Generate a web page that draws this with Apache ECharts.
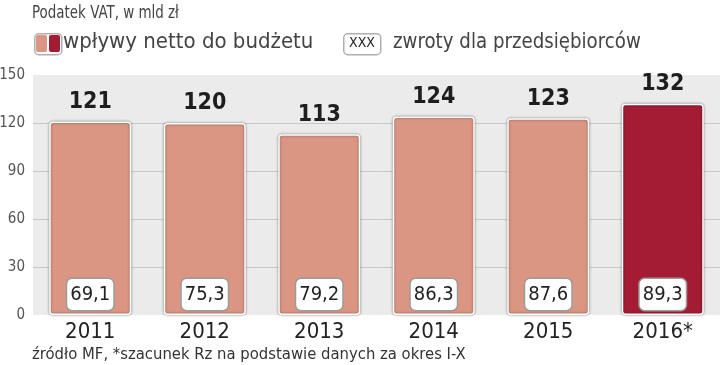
<!DOCTYPE html>
<html><head><meta charset="utf-8">
<script src="https://cdn.jsdelivr.net/npm/echarts@6/dist/echarts.min.js"></script>
<style>html,body{margin:0;padding:0;background:#fff}#c{width:720px;height:365px}</style>
</head><body><div id="c"></div>
<script>
var categories = ['2011','2012','2013','2014','2015','2016*'];
var netIncome = [121, 120, 113, 124, 123, 132];
var refunds = [69.1, 75.3, 79.2, 86.3, 87.6, 89.3];
var yTicks = [0, 30, 60, 90, 120, 150];

var LIGHT = '#DA9682', DARK = '#A31C33';
var COND = '"DejaVu Sans Condensed",sans-serif';

var chart = echarts.init(document.getElementById('c'));
chart.setOption({
  animation: false,
  grid: {left: 33, right: 0, top: 75, bottom: 50, outerBoundsMode: 'none', containLabel: false,
         show: true, backgroundColor: '#ebebeb', borderWidth: 0},
  xAxis: {
    type: 'category', data: categories,
    axisLine: {show: false}, axisTick: {show: false},
    axisLabel: {fontFamily: COND, fontSize: 22, color: '#222', margin: 6}
  },
  yAxis: {
    type: 'value', min: yTicks[0], max: yTicks[yTicks.length-1], interval: 30,
    axisLine: {show: false}, axisTick: {show: false},
    axisLabel: {fontFamily: COND, fontSize: 15, color: '#555', margin: 8},
    splitLine: {showMinLine: false, showMaxLine: false, lineStyle: {color: '#c8c8c8', width: 1}}
  },
  series: [
    {
      type: 'bar', barWidth: 82,
      data: netIncome.map(function(v, i){
        return {value: v, itemStyle: {color: i === netIncome.length-1 ? DARK : LIGHT}};
      }),
      itemStyle: {borderColor: '#fff', borderWidth: 1.5, borderRadius: 3, shadowColor: 'rgba(0,0,0,0.45)', shadowBlur: 2.5},
      label: {show: true, position: 'top', distance: 8, fontFamily: COND, fontWeight: 'bold', fontSize: 23, color: '#1e1e1e'},
      z: 2
    },
    {
      type: 'bar', barWidth: 82, barGap: '-100%',
      data: refunds,
      itemStyle: {color: 'rgba(0,0,0,0)'},
      label: {
        show: true, position: 'insideBottom', distance: 5,
        formatter: function(p){ return String(p.value).replace('.', ','); },
        fontFamily: COND, fontSize: 20, color: '#222',
        backgroundColor: '#fff', borderColor: '#9a9a9a', borderWidth: 1.5, borderRadius: 5,
        padding: [6, 4, 5, 4], width: 38, align: 'center'
      },
      silent: true, z: 3
    }
  ],
  graphic: [
    {type: 'text', left: 32, top: 4, scaleX: 0.83, style: {text: 'Podatek VAT, w mld zł', font: '18px ' + COND, fill: '#444'}},
    {type: 'rect', left: 34, top: 33, shape: {width: 27, height: 21, r: 4}, style: {fill: '#fff', stroke: '#b0b0b0', lineWidth: 1.5}},
    {type: 'rect', left: 36, top: 35, shape: {width: 11, height: 17, r: 2}, style: {fill: LIGHT}},
    {type: 'rect', left: 49, top: 35, shape: {width: 11, height: 17, r: 2}, style: {fill: DARK}},
    {type: 'text', left: 63, top: 31, style: {text: 'wpływy netto do budżetu', font: '22px ' + COND, fill: '#444'}},
    {type: 'rect', left: 343, top: 33, shape: {width: 37, height: 21, r: 4}, style: {fill: '#fff', stroke: '#b0b0b0', lineWidth: 1.5}},
    {type: 'text', left: 349, top: 36, style: {text: 'XXX', font: '14px ' + COND, fill: '#222'}},
    {type: 'text', left: 393, top: 31, scaleX: 0.92, style: {text: 'zwroty dla przedsiębiorców', font: '22px ' + COND, fill: '#444'}},
    {type: 'text', left: 32, top: 346, style: {text: 'źródło MF, *szacunek Rz na podstawie danych za okres I-X', font: '16.5px ' + COND, fill: '#333'}}
  ]
});
</script>
</body></html>
